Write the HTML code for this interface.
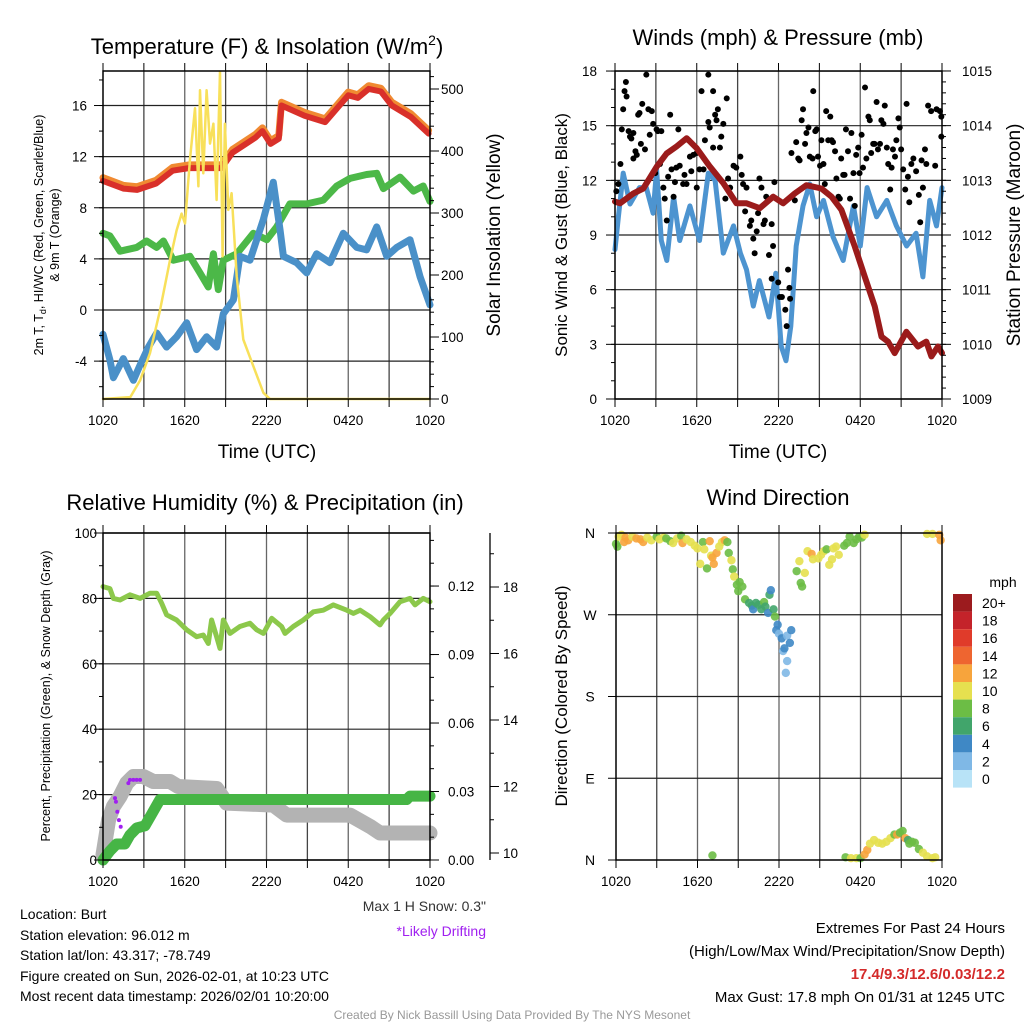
<!DOCTYPE html>
<html><head><meta charset="utf-8">
<style>
html,body{margin:0;padding:0;background:#fff;}
svg{display:block;font-family:"Liberation Sans",sans-serif;}
</style></head>
<body>
<svg id="c" width="1024" height="1024" viewBox="0 0 1024 1024">
<rect width="1024" height="1024" fill="#fff"/>
<g id="grid"></g>
<g id="marks"></g>
<g id="axes"></g>
<g id="texts">
<text x="267" y="54" font-size="22" text-anchor="middle">Temperature (F) &amp; Insolation (W/m<tspan font-size="14" dy="-9">2</tspan><tspan dy="9">)</tspan></text>
<text transform="translate(43,235) rotate(-90)" font-size="12.5" text-anchor="middle">2m T, T<tspan font-size="9" dy="3">d</tspan><tspan dy="-3">, HI/WC (Red, Green, Scarlet/Blue)</tspan></text>
<text transform="translate(59,235) rotate(-90)" font-size="12.5" text-anchor="middle">&amp; 9m T (Orange)</text>
<text transform="translate(500,235) rotate(-90)" font-size="19" text-anchor="middle">Solar Insolation (Yellow)</text>
<text x="267" y="458" font-size="19" text-anchor="middle">Time (UTC)</text>
<text x="778" y="45" font-size="22" text-anchor="middle">Winds (mph) &amp; Pressure (mb)</text>
<text transform="translate(567,235) rotate(-90)" font-size="17" text-anchor="middle">Sonic Wind &amp; Gust (Blue, Black)</text>
<text transform="translate(1020,235) rotate(-90)" font-size="19" text-anchor="middle">Station Pressure (Maroon)</text>
<text x="778" y="458" font-size="19" text-anchor="middle">Time (UTC)</text>
<text x="265" y="510" font-size="22" text-anchor="middle">Relative Humidity (%) &amp; Precipitation (in)</text>
<text transform="translate(50,696) rotate(-90)" font-size="12.5" text-anchor="middle">Percent, Precipitation (Green), &amp; Snow Depth (Gray)</text>
<text x="778" y="505" font-size="22" text-anchor="middle">Wind Direction</text>
<text transform="translate(567,696) rotate(-90)" font-size="17" text-anchor="middle">Direction (Colored By Speed)</text>
<text x="1003" y="587" font-size="14" text-anchor="middle">mph</text>
<text x="486" y="911" font-size="14" text-anchor="end" fill="#333">Max 1 H Snow: 0.3"</text>
<text x="486" y="936" font-size="14" text-anchor="end" fill="#a020f0">*Likely Drifting</text>
<g font-size="14">
<text x="20" y="919">Location: Burt</text>
<text x="20" y="940">Station elevation: 96.012 m</text>
<text x="20" y="960">Station lat/lon: 43.317; -78.749</text>
<text x="20" y="981">Figure created on Sun, 2026-02-01, at 10:23 UTC</text>
<text x="20" y="1001">Most recent data timestamp: 2026/02/01 10:20:00</text>
</g>
<g font-size="15" text-anchor="end">
<text x="1005" y="933">Extremes For Past 24 Hours</text>
<text x="1005" y="956">(High/Low/Max Wind/Precipitation/Snow Depth)</text>
<text x="1005" y="979" fill="#d42a2a" font-weight="bold">17.4/9.3/12.6/0.03/12.2</text>
<text x="1005" y="1002">Max Gust: 17.8 mph On 01/31 at 1245 UTC</text>
</g>
<text x="512" y="1019" font-size="12" fill="#999" text-anchor="middle">Created By Nick Bassill Using Data Provided By The NYS Mesonet</text>
</g>
</svg>
<script>
// ---------- DATA ----------
const xTickLabels = ["1020","1620","2220","0420","1020"];
const tempTickLabels = [-4,0,4,8,12,16];
const solarTickLabels = [0,100,200,300,400,500];
const windTickLabels = [0,3,6,9,12,15,18];
const presTickLabels = [1009,1010,1011,1012,1013,1014,1015];
const rhTickLabels = [0,20,40,60,80,100];
const precipTickLabels = [0.00,0.03,0.06,0.09,0.12];
const snowTickLabels = [10,12,14,16,18];
const dirTickLabels = ["N","E","S","W","N"];
const dirTickDeg = [0,90,180,270,360];

const redT = [0,1.5,2.5,3.9,5.1,6.3,8.7,9.5,11.2,11.7,12.3,12.9,13.1,14.8,16.3,18.0,18.7,19.5,20.4,21.2,22.6,23.9];
const redV = [10.1,9.5,9.4,9.9,10.9,11.1,11.1,12.3,13.5,14.0,13.0,13.4,16.0,15.2,14.7,16.8,16.6,17.3,17.1,16.0,15.1,13.8];
const grnT = [0,0.51,1.25,2.47,3.2,3.94,4.43,5.16,6.38,7.12,7.73,8.1,8.46,8.83,9.81,11.03,12.02,12.75,13.72,14.95,16.17,17.15,18.13,19.35,20.09,20.58,21.8,22.78,23.5,24];
const grnV = [6.0,5.8,4.6,4.9,5.4,4.9,5.4,3.9,4.2,2.9,1.8,4.4,1.6,3.9,4.4,6.0,5.5,6.5,8.3,8.3,8.6,9.7,10.3,10.6,10.7,9.5,10.4,9.3,9.7,8.5];
const bluT = [0,0.51,0.76,1.49,2.23,2.72,3.33,3.94,4.67,5.4,6.14,6.87,7.6,8.34,8.83,9.57,10.05,10.79,11.77,12.5,12.99,13.24,14.21,14.95,15.68,16.66,17.64,18.62,19.35,20.09,20.82,21.56,22.53,23.27,24];
const bluV = [-1.9,-3.9,-5.3,-3.8,-5.5,-4.3,-2.9,-1.8,-2.9,-2.1,-1.0,-3.1,-2.1,-2.9,-0.3,0.8,4.2,3.9,7.1,10.0,6.3,4.2,3.7,2.9,4.4,3.7,6.0,4.9,4.7,6.5,4.2,4.9,5.5,2.6,0.4];
const solT = [0,2.0,2.72,3.45,4.18,4.92,5.4,5.77,6.02,6.38,6.75,7.0,7.12,7.36,7.6,7.85,8.1,8.34,8.59,8.78,8.95,9.2,9.44,9.81,10.3,11.03,11.77,12.26,24];
const solV = [0,3,30,74,143,224,272,299,283,385,469,343,498,364,498,412,444,321,528,230,444,305,332,198,96,53,10,0,0];

const sonT = [0,0.25,0.6,1.1,1.8,2.3,2.8,3.05,3.4,3.8,4.3,4.75,5.5,6.2,6.85,7.35,7.95,8.7,9.2,9.65,10.15,10.6,11.3,11.8,12.2,12.55,12.9,13.3,13.8,14.3,14.8,15.3,16.0,16.75,17.5,18.0,18.5,19.2,19.95,20.65,21.4,22.1,22.6,23.1,23.6,24];
const sonV = [8.2,10.0,12.4,10.7,11.6,11.6,10.2,12.6,8.7,7.6,11.1,8.7,10.6,8.7,12.4,12.0,8.0,9.5,8.0,7.1,5.1,6.5,4.5,6.9,2.9,2.1,4.0,8.4,10.6,11.8,10.0,10.9,8.9,7.6,10.6,8.4,11.6,10.0,10.9,9.5,8.4,9.1,6.7,10.9,9.5,11.6];
const presT = [0,0.37,1.35,2.08,3.06,3.79,4.52,5.26,5.99,6.97,7.95,8.92,9.66,10.63,11.61,12.34,13.2,14.05,15.15,15.89,16.62,17.6,18.33,19.07,19.56,20.04,20.53,21.39,22.24,22.85,23.22,23.71,24];
const presV = [1012.61,1012.58,1012.76,1012.85,1013.25,1013.49,1013.62,1013.77,1013.59,1013.25,1012.95,1012.58,1012.58,1012.49,1012.70,1012.58,1012.76,1012.91,1012.85,1012.70,1012.46,1011.79,1011.24,1010.69,1010.14,1010.05,1009.84,1010.23,1009.96,1010.05,1009.78,1009.96,1009.84];
const gustT = [0.1,0.25,0.4,0.5,0.6,0.7,0.8,0.85,1.0,1.1,1.2,1.35,1.35,1.5,1.6,1.7,1.8,1.9,2.0,2.2,2.3,2.45,2.55,2.7,2.8,2.95,3.05,3.15,3.3,3.4,3.55,3.65,3.8,3.9,4.05,4.15,4.3,4.4,4.5,4.65,4.75,5.0,5.1,5.25,5.4,5.5,5.6,5.75,6.0,6.0,6.2,6.35,6.5,6.6,6.85,6.85,6.95,7.2,7.2,7.35,7.45,7.55,7.7,7.8,7.95,8.1,8.2,8.3,8.45,8.7,8.9,9.2,9.3,9.4,9.55,9.65,9.9,10.0,10.15,10.25,10.4,10.5,10.6,10.75,10.9,11.0,11.1,11.3,11.5,11.6,11.7,11.5,11.98,12.1,12.25,12.5,12.6,12.7,12.8,12.85,12.95,13.2,13.3,13.45,13.55,13.7,13.8,13.95,14.05,14.2,14.3,14.5,14.55,14.7,14.8,14.9,15.05,15.15,15.3,15.4,15.5,15.65,15.8,15.9,16.0,16.15,16.25,16.4,16.5,16.6,16.75,16.85,16.95,17.1,17.25,17.35,17.5,17.6,17.7,17.85,17.95,18.1,18.2,18.35,18.45,18.6,18.7,18.8,18.95,19.05,19.2,19.3,19.45,19.55,19.7,19.8,19.95,20.05,20.2,20.3,20.4,20.55,20.65,20.8,20.9,21.0,21.15,21.3,21.4,21.5,21.6,21.75,21.9,22.1,22.3,22.4,22.5,22.6,22.75,22.85,22.98,23.2,23.5,23.6,23.85,23.95,23.95];
const gustV = [11.4,11.8,12.9,14.8,15.9,16.9,17.4,16.6,14.7,14.4,14.3,14.6,13.2,13.6,13.4,15.6,15.7,14.0,16.2,13.7,17.8,15.9,14.5,15.8,15.1,12.4,14.8,14.7,12.9,14.7,11.6,11.0,9.8,12.2,15.6,12.6,11.1,11.9,12.7,14.8,12.8,11.8,12.3,11.8,14.2,13.3,12.5,13.4,11.6,13.5,12.6,16.9,12.6,14.2,17.8,15.2,14.9,13.8,16.9,15.6,15.3,15.9,13.8,14.4,15.1,11.0,16.5,12.1,11.6,12.8,12.7,13.3,12.3,11.8,10.3,11.6,9.5,9.8,8.8,8.0,9.2,10.2,12.1,11.6,9.6,9.8,11.1,7.9,9.6,8.4,11.9,6.6,6.4,5.6,5.6,4.9,4.0,7.1,6.1,5.5,13.5,10.9,14.1,13.2,13.1,15.3,15.9,14.0,14.6,14.9,13.3,13.2,16.9,14.7,14.8,13.3,12.8,14.2,12.9,11.8,15.8,14.2,15.5,14.2,14.1,13.6,12.1,11.1,11.0,13.2,12.3,12.3,14.8,13.6,11.0,14.6,12.4,10.6,13.4,13.8,12.4,14.5,12.7,17.1,13.2,15.5,15.3,13.5,14.0,14.0,16.3,13.7,14.0,15.3,15.1,16.1,13.8,12.9,11.5,12.7,13.7,13.3,14.2,15.4,14.9,13.7,12.6,11.5,16.2,12.2,10.8,12.9,13.2,12.5,11.2,9.7,13.1,11.6,13.7,12.9,16.1,15.8,12.8,15.9,15.8,14.4,15.5];

const rhT = [0,0.51,0.76,1.25,1.98,2.72,3.45,3.94,4.31,4.67,5.4,6.14,6.87,7.36,7.73,7.97,8.34,8.59,8.83,9.32,10.05,10.79,11.28,11.77,12.38,13.11,13.36,13.97,14.7,15.44,16.17,16.91,17.89,18.38,18.87,19.6,20.33,20.58,21.07,21.8,22.53,22.9,23.5,24];
const rhV = [83.6,83.0,80.0,79.5,81.1,80.0,81.6,81.6,78.5,75.0,73.4,70.4,68.3,68.8,66.2,73.4,68.3,64.7,73.4,69.3,71.4,72.4,70.4,69.3,73.9,71.4,69.3,71.4,73.4,75.9,76.4,78.0,76.4,75.4,76.4,74.4,71.9,73.4,75.4,79.0,80.0,78.0,80.0,79.0];
const precT = [0,0.51,1.0,1.6,1.98,2.47,3.08,3.57,4.18,8.34,22.29,22.53,24];
const precV = [0,0.004,0.007,0.007,0.011,0.014,0.015,0.020,0.0265,0.0265,0.0265,0.028,0.028];
const snowT = [0,0.41,0.76,1.25,1.74,2.23,2.96,3.69,4.92,5.52,8.34,9.07,12.5,13.48,18.13,19.6,20.33,24];
const snowV = [9.95,11.0,11.4,11.7,12.1,12.3,12.3,12.15,12.15,12.0,11.94,11.5,11.44,11.14,11.14,10.8,10.6,10.6];
const driftT = [0.88,0.95,1.05,1.17,1.3,1.86,1.98,2.23,2.47,2.72];
const driftV = [11.65,11.54,11.24,10.99,10.79,12.1,12.2,12.2,12.2,12.2];

const dirT = [0.0,0.1,0.2,0.4,0.6,0.7,0.9,1.2,1.5,1.8,2.0,2.3,2.6,3.0,3.2,3.5,3.7,4.0,4.2,4.5,4.8,4.9,5.2,5.5,5.8,6.0,6.2,6.4,6.5,6.7,6.9,7.0,7.1,7.2,7.4,7.6,7.8,8.0,8.2,8.3,8.5,8.6,8.7,8.9,9.0,9.1,9.3,9.5,9.8,10.0,10.1,10.3,10.5,10.7,10.9,11.0,11.2,11.3,11.4,11.6,11.7,11.8,11.9,12.0,12.2,12.3,12.4,12.6,12.6,12.8,12.9,12.5,13.3,13.5,13.6,13.7,13.9,14.1,14.4,14.5,14.9,15.1,15.3,15.5,15.7,15.9,16.0,16.2,16.4,16.8,17.0,17.2,17.5,17.7,17.9,18.1,18.3,22.9,23.3,23.8,23.9,7.1,16.9,17.3,17.7,18.0,18.3,18.5,18.7,19.0,19.3,19.6,19.9,20.2,20.5,20.7,20.9,21.1,21.3,21.5,21.6,21.8,22.0,22.3,22.6,22.9,23.3,23.5];
const dirDeg = [348,345,356,358,350,355,352,356,354,353,350,355,352,356,353,355,354,351,349,354,357,349,353,350,346,343,326,350,342,321,351,335,333,326,338,345,350,352,350,338,330,320,312,303,296,306,301,287,283,280,276,283,281,276,284,279,272,292,297,276,268,253,259,249,244,230,233,219,247,239,253,206,318,329,305,301,316,340,337,331,332,336,340,342,325,331,343,345,336,346,349,356,349,353,356,355,358,359,359,358,352,5,3,2,2,2,6,11,18,22,19,18,20,24,28,28,30,32,24,22,18,20,19,12,8,4,2,3];
const dirSpd = [8,8,10,10,12,12,12,10,12,12,12,10,10,8,10,10,8,8,10,10,8,12,10,10,10,10,10,8,10,8,12,10,12,12,12,10,10,12,8,8,10,8,10,8,8,8,8,8,6,6,4,6,6,6,8,6,4,6,4,6,8,4,4,2,4,2,4,2,2,4,4,2,8,10,8,8,10,10,12,10,10,10,10,8,10,10,10,10,10,8,8,8,8,8,8,8,10,10,10,12,12,8,8,10,10,8,12,12,10,10,10,10,10,10,8,12,8,8,12,6,8,8,8,8,10,10,10,10];
const legendLabels = ["20+","18","16","14","12","10","8","6","4","2","0"];
const legendColors = ["#9c1b1e","#c4232a","#e03b2a","#ee6530","#f7a43c","#e6e04f","#6cbd45","#41a56b","#3f88c5","#7fb8e6","#b8e3f7"];

// ---------- HELPERS ----------
const NS="http://www.w3.org/2000/svg";
const G=document.getElementById('grid'),M=document.getElementById('marks'),A=document.getElementById('axes');
function mk(tag,attrs,parent){const e=document.createElementNS(NS,tag);for(const k in attrs)e.setAttribute(k,attrs[k]);parent.appendChild(e);return e;}
function lineF(x1,y1,x2,y2,st,w,p){return mk('line',{x1,y1,x2,y2,stroke:st,'stroke-width':w},p);}
function txt(x,y,s,anchor,size,p){const t=mk('text',{x,y,'font-size':size,'text-anchor':anchor},p);t.textContent=s;return t;}
function poly(T,V,xs,ys,color,w,name){
  const d=T.map((t,i)=>(i?'L':'M')+xs(t).toFixed(1)+','+ys(V[i]).toFixed(1)).join('');
  const p=mk('path',{d,fill:'none',stroke:color,'stroke-width':w,'stroke-linejoin':'round','stroke-linecap':'round'},M);
  
  
  return p;
}
function frame(x0,x1,y0,y1,name){
  const r=mk('rect',{x:x0,y:y0,width:x1-x0,height:y1-y0,fill:'none',stroke:'#000','stroke-width':1.5},A);
  
  
  for(let i=0;i<=8;i++){const x=x0+(x1-x0)*i/8;
    if(i>0&&i<8)lineF(x,y0,x,y1,i%2?'#444':'#666',1.3,G);
    lineF(x,y1,x,y1+8,'#000',1,A);lineF(x,y0,x,y0-8,'#000',1,A);}
  for(let i=0;i<xTickLabels.length;i++){const t=txt(x0+(x1-x0)*i/4,y1+26,xTickLabels[i],'middle',13.5,A);
    
    }
}
function leftAxis(x0,x1,ys,labels,minorStep,lo,hi,grid,lx,fmt){
  for(let v=lo;v<=hi+1e-9;v+=minorStep){const y=ys(v);lineF(x0-4,y,x0,y,'#000',1,A);}
  labels.forEach(v=>{const y=ys(v);lineF(x0-9,y,x0,y,'#000',1,A);
    if(grid)lineF(x0,y,x1,y,'#222',1.2,G);
    const t=txt(lx,y+5,fmt?fmt(v):String(v),'end',13.5,A);
    
    });
}
function rightAxis(x,ys,labels,minorStep,lo,hi,lx,fmt,anchor){
  for(let v=lo;v<=hi+1e-9;v+=minorStep){const y=ys(v);lineF(x,y,x+4,y,'#000',1,A);}
  labels.forEach(v=>{const y=ys(v);lineF(x,y,x+9,y,'#000',1,A);
    const t=txt(lx,y+5,fmt?fmt(v):String(v),anchor||'start',13.5,A);
    
    });
}

// ---------- PANEL 1: temperature ----------
{const x0=103,x1=430,y0=71,y1=399;
 const xs=t=>x0+t/24*(x1-x0), ys=v=>310-v*12.78, ss=v=>399-v*0.62;
 frame(x0,x1,y0,y1,'temperature-plot-frame');
 leftAxis(x0,x1,ys,tempTickLabels,2,-6,18,true,87);
 rightAxis(x1,ss,solarTickLabels,20,0,520,441);
 poly(redT,redV.map(v=>v+0.25),xs,ys,'#f08a32',7,'nine-m-temp-line');
 poly(redT,redV,xs,ys,'#d9302a',6,'two-m-temp-line');
 poly(grnT,grnV,xs,ys,'#4cb848',7,'dewpoint-line');
 poly(bluT,bluV,xs,ys,'#4a90c8',7,'wind-chill-line');
 poly(solT,solV,xs,ss,'#f8e05a',2.5,'solar-insolation-line');
}
// ---------- PANEL 2: winds ----------
{const x0=615,x1=942,y0=71,y1=399;
 const xs=t=>x0+t/24*(x1-x0), ys=v=>399-v*18.22, ps=p=>399-(p-1009)*54.67;
 frame(x0,x1,y0,y1,'winds-plot-frame');
 leftAxis(x0,x1,ys,windTickLabels,1,0,18,true,597);
 rightAxis(x1,ps,presTickLabels,0.2,1009,1015,962);
 poly(sonT,sonV,xs,ys,'#4d94d0',5,'sonic-wind-line');
 gustT.forEach((t,i)=>{const c=mk('circle',{cx:xs(t),cy:ys(gustV[i]),r:3,fill:'#000'},M);
   
   });
 poly(presT,presV,xs,ps,'#9b1b1b',6,'pressure-line');
}
// ---------- PANEL 3: RH & precip ----------
{const x0=103,x1=430,y0=533,y1=860;
 const xs=t=>x0+t/24*(x1-x0), ys=v=>860-v*3.27, pr=v=>860-v*2283, sn=d=>853-(d-10)*33.25;
 frame(x0,x1,y0,y1,'rh-plot-frame');
 leftAxis(x0,x1,ys,rhTickLabels,10,0,100,true,97);
 rightAxis(x1,pr,precipTickLabels,0.01,0,0.14,448,v=>v.toFixed(2));
 lineF(490,533,490,860,'#000',1.3,A);
 rightAxis(490,sn,snowTickLabels,1,10,19,503);
 poly(snowT,snowV,xs,sn,'#b3b3b3',15,'snow-depth-line');
 driftT.forEach((t,i)=>{const c=mk('circle',{cx:xs(t),cy:sn(driftV[i]),r:2,fill:'#a020f0'},M);
   
   });
 poly(precT,precV,xs,pr,'#46b545',11,'precipitation-line');
 poly(rhT,rhV,xs,ys,'#8cc84b',5,'relative-humidity-line');
}
// ---------- PANEL 4: wind direction ----------
{const x0=616,x1=942,y0=533,y1=860;
 const xs=t=>x0+t/24*(x1-x0), ys=d=>860-d*327/360;
 frame(x0,x1,y0,y1,'direction-plot-frame');
 dirTickDeg.forEach((d,i)=>{const y=ys(d);lineF(x0-8,y,x0,y,'#000',1,A);
   if(i>0&&i<4)lineF(x0,y,x1,y,'#222',1.2,G);
   const t=txt(590,y+5,dirTickLabels[i],'middle',14,A);
   
   });
 const col=s=>legendColors[10-Math.min(10,Math.floor(s/2))];
 dirT.forEach((t,i)=>{const c=mk('circle',{cx:xs(t),cy:ys(dirDeg[i]),r:4.2,fill:col(dirSpd[i]),'fill-opacity':0.9},M);
   
   });
 legendLabels.forEach((l,i)=>{const y=594+i*17.6;
   const r=mk('rect',{x:953,y:y,width:19,height:17.6,fill:legendColors[i]},A);
   
   
   const t=txt(982,y+14,l,'start',14,A);
   
   });
}
</script>
</body></html>
